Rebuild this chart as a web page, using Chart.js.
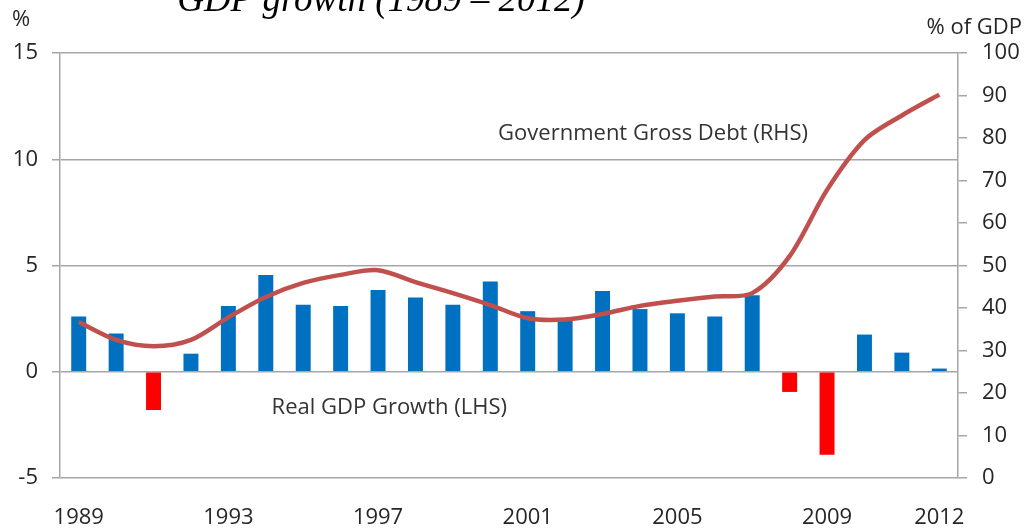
<!DOCTYPE html>
<html>
<head>
<meta charset="utf-8">
<script src="https://cdn.jsdelivr.net/npm/chart.js@4"></script>
<style>
  body { margin: 0; background: #fff; }
  #wrap { width: 1029px; height: 528px; }
</style>
</head>
<body>
<div id="wrap"><canvas id="gdpChart" width="1029" height="528"></canvas></div>
<script>
// data
const years = ["1989","1990","1991","1992","1993","1994","1995","1996","1997","1998","1999","2000",
               "2001","2002","2003","2004","2005","2006","2007","2008","2009","2010","2011","2012"];
const gdpGrowth = [2.6, 1.8, -1.8, 0.85, 3.1, 4.55, 3.15, 3.1, 3.85, 3.5, 3.15, 4.25,
                   2.85, 2.5, 3.8, 2.95, 2.75, 2.6, 3.6, -0.95, -3.9, 1.75, 0.9, 0.15];
const grossDebt = [36.7, 32.5, 31.0, 32.5, 37.8, 42.6, 45.9, 47.8, 48.9, 46.1, 43.5, 40.7,
                   37.6, 37.3, 38.6, 40.5, 41.7, 42.7, 43.5, 52.2, 67.8, 79.5, 85.3, 90.2];
const shownYears = ["1989","1993","1997","2001","2005","2009","2012"];
const leftTicks = [-5, 0, 5, 10, 15];
const rightTicks = [0, 10, 20, 30, 40, 50, 60, 70, 80, 90, 100];

const blue = '#0070C0';
const red = '#FF0000';
const debtRed = '#C0504D';
const gridGrey = '#A6A6A6';
const textCol = '#262626';
const labelFont = { family: "'Open Sans', 'Noto Sans', sans-serif", size: 22 };

/* extra texts: title, axis units and the two series notes */
const textsPlugin = {
  id: 'texts',
  afterDraw(chart) {
    const c = chart.ctx;
    const x = chart.scales.x, y = chart.scales.y;
    c.save();
    c.fillStyle = '#000';
    c.font = "italic 37px 'Liberation Serif', serif";
    c.textAlign = 'center';
    c.textBaseline = 'alphabetic';
    c.fillText('GDP growth (1989 \u2013 2012)', 381, 11);

    c.fillStyle = textCol;
    c.font = "22px 'Open Sans', 'Noto Sans', sans-serif";
    c.textBaseline = 'middle';
    c.textAlign = 'left';
    c.fillText('%', 12, 20);
    c.textAlign = 'right';
    c.fillText('% of GDP', 1022, 28);

    c.fillStyle = '#333';
    c.textAlign = 'center';
    c.fillText('Government Gross Debt (RHS)', x.getPixelForValue(15.35), y.getPixelForValue(11.2));
    c.fillText('Real GDP Growth (LHS)', x.getPixelForValue(8.3), y.getPixelForValue(-1.7));
    c.restore();
  }
};

const ctx = document.getElementById('gdpChart');

new Chart(ctx, {
  type: 'bar',
  data: {
    labels: years,
    datasets: [
      {
        type: 'line',
        label: 'Government Gross Debt (RHS)',
        data: grossDebt,
        yAxisID: 'y1',
        borderColor: debtRed,
        borderWidth: 4.5,
        pointRadius: 0,
        tension: 0.3,
        fill: false,
        order: 0
      },
      {
        type: 'bar',
        label: 'Real GDP Growth (LHS)',
        data: gdpGrowth,
        yAxisID: 'y',
        backgroundColor: gdpGrowth.map(v => v < 0 ? red : blue),
        barPercentage: 0.4,
        categoryPercentage: 1.0,
        order: 1
      }
    ]
  },
  options: {
    responsive: false,
    animation: false,
    layout: { padding: { top: 53, left: 0, right: 0, bottom: 0 } },
    plugins: {
      legend: { display: false },
      tooltip: { enabled: false }
    },
    scales: {
      x: {
        grid: { display: false },
        border: { display: false },
        ticks: {
          autoSkip: false,
          maxRotation: 0,
          padding: 19,
          color: textCol,
          font: labelFont,
          callback: function (val) {
            const lab = this.getLabelForValue(val);
            return shownYears.includes(lab) ? lab : '';
          }
        },
        afterFit(scale) { scale.height = 50; }
      },
      y: {
        position: 'left',
        min: -5,
        max: 15,
        afterBuildTicks(scale) { scale.ticks = leftTicks.map(v => ({ value: v })); },
        grid: { color: gridGrey, lineWidth: 1.5, tickLength: 8 },
        border: { color: gridGrey, width: 1.5 },
        ticks: { color: textCol, font: labelFont, padding: 14 },
        afterFit(scale) { scale.width = 60; }
      },
      y1: {
        position: 'right',
        min: 0,
        max: 100,
        afterBuildTicks(scale) { scale.ticks = rightTicks.map(v => ({ value: v })); },
        grid: { drawOnChartArea: false, color: gridGrey, lineWidth: 1.5, tickLength: 9 },
        border: { color: gridGrey, width: 1.5 },
        ticks: { color: textCol, font: labelFont, padding: 15 },
        afterFit(scale) { scale.width = 71; }
      }
    }
  },
  plugins: [textsPlugin]
});
</script>
</body>
</html>
